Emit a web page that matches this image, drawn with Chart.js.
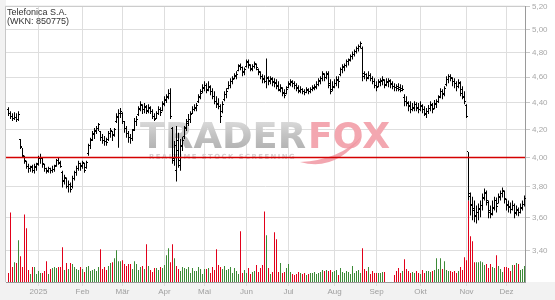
<!DOCTYPE html>
<html><head><meta charset="utf-8">
<script src="https://cdn.jsdelivr.net/npm/chart.js@4.4.1/dist/chart.umd.min.js"></script>
<style>html,body{margin:0;padding:0;background:#fff;}canvas{display:block;}</style>
</head><body>
<canvas id="c" width="555" height="300"></canvas>
<script>
const titleLine1 = 'Telefonica S.A.';
const titleLine2 = '(WKN: 850775)';
const monthStarts = [15,37,57,78,98,119,140,163,184,206,229,249];
const monthLabels = ['2025','Feb','Mär','Apr','Mai','Jun','Jul','Aug','Sep','Okt','Nov','Dez'];
const priceTicks = [3.4,3.6,3.8,4.0,4.2,4.4,4.6,4.8,5.0,5.2];
const refLevel = 4.0;

const open = [
4.351,4.321,4.299,4.284,4.291,4.277,4.124,4.067,4.004,3.970,
3.936,3.922,3.936,3.909,3.929,3.956,3.997,3.990,3.950,3.922,
3.902,3.922,3.909,3.916,3.943,3.977,3.963,3.895,3.836,3.855,
3.803,3.816,3.803,3.855,3.895,3.922,3.956,3.936,3.956,3.929,
4.025,4.082,4.124,4.160,4.182,4.204,4.182,4.139,4.117,4.110,
4.124,4.167,4.182,4.160,4.262,4.291,4.321,4.321,4.255,4.204,
4.167,4.139,4.131,4.196,4.255,4.314,4.359,4.382,4.351,4.366,
4.344,4.359,4.336,4.299,4.284,4.321,4.351,4.344,4.389,4.420,
4.443,4.474,4.204,3.977,3.909,4.117,3.943,4.075,4.146,4.211,
4.255,4.277,4.321,4.351,4.359,4.412,4.450,4.489,4.512,4.536,
4.497,4.520,4.489,4.450,4.412,4.397,4.374,4.336,4.427,4.466,
4.512,4.536,4.567,4.591,4.607,4.655,4.695,4.679,4.639,4.687,
4.728,4.695,4.663,4.687,4.704,4.663,4.639,4.607,4.591,4.567,
4.591,4.567,4.583,4.567,4.559,4.536,4.497,4.512,4.481,4.474,
4.520,4.544,4.559,4.552,4.536,4.520,4.489,4.505,4.489,4.481,
4.505,4.489,4.505,4.512,4.520,4.544,4.567,4.591,4.623,4.599,
4.631,4.552,4.505,4.528,4.552,4.583,4.623,4.663,4.679,4.695,
4.728,4.744,4.769,4.786,4.810,4.835,4.852,4.835,4.607,4.623,
4.591,4.615,4.591,4.567,4.536,4.528,4.559,4.567,4.575,4.544,
4.559,4.567,4.552,4.528,4.520,4.528,4.520,4.512,4.443,4.412,
4.404,4.382,4.351,4.359,4.389,4.366,4.351,4.374,4.351,4.314,
4.336,4.359,4.382,4.359,4.389,4.412,4.450,4.489,4.474,4.544,
4.583,4.607,4.591,4.567,4.552,4.528,4.552,4.505,4.443,4.382,
4.039,3.736,3.685,3.660,3.610,3.635,3.654,3.679,3.730,3.756,
3.698,3.647,3.628,3.666,3.711,3.692,3.730,3.756,3.769,3.717,
3.685,3.673,3.654,3.679,3.628,3.654,3.635,3.666,3.685];
const high = [
4.366,4.336,4.321,4.328,4.321,4.336,4.131,4.067,4.011,3.977,
3.956,3.943,3.950,3.956,3.963,4.011,4.025,3.997,3.956,3.929,
3.936,3.929,3.943,3.950,3.990,3.997,3.977,3.909,3.882,3.862,
3.842,3.829,3.875,3.909,3.943,3.977,3.963,3.977,3.963,3.977,
4.096,4.139,4.189,4.211,4.225,4.247,4.189,4.167,4.153,4.139,
4.189,4.211,4.189,4.211,4.321,4.351,4.359,4.328,4.262,4.225,
4.189,4.167,4.204,4.284,4.299,4.374,4.412,4.389,4.397,4.382,
4.389,4.374,4.351,4.321,4.336,4.374,4.366,4.412,4.450,4.466,
4.505,4.512,4.218,4.117,4.225,4.175,4.131,4.146,4.225,4.277,
4.314,4.336,4.374,4.389,4.397,4.466,4.505,4.544,4.567,4.552,
4.567,4.536,4.512,4.489,4.450,4.435,4.389,4.412,4.489,4.512,
4.567,4.591,4.607,4.631,4.647,4.704,4.712,4.687,4.679,4.744,
4.744,4.704,4.704,4.728,4.712,4.671,4.647,4.623,4.615,4.753,
4.607,4.607,4.599,4.591,4.583,4.567,4.544,4.520,4.505,4.528,
4.567,4.583,4.575,4.567,4.552,4.536,4.528,4.512,4.505,4.520,
4.512,4.520,4.536,4.544,4.567,4.591,4.607,4.647,4.631,4.647,
4.647,4.583,4.567,4.583,4.607,4.607,4.679,4.704,4.712,4.744,
4.753,4.786,4.810,4.827,4.852,4.869,4.894,4.852,4.647,4.631,
4.647,4.631,4.607,4.591,4.567,4.583,4.591,4.607,4.583,4.591,
4.591,4.583,4.567,4.552,4.544,4.552,4.544,4.536,4.466,4.450,
4.412,4.412,4.397,4.412,4.404,4.397,4.412,4.389,4.374,4.359,
4.382,4.412,4.397,4.420,4.427,4.458,4.512,4.505,4.528,4.607,
4.623,4.623,4.599,4.591,4.567,4.583,4.567,4.528,4.489,4.389,
4.039,3.763,3.736,3.711,3.679,3.692,3.711,3.756,3.789,3.776,
3.711,3.679,3.711,3.736,3.730,3.756,3.776,3.796,3.776,3.723,
3.711,3.698,3.711,3.692,3.679,3.666,3.692,3.711,3.743];
const low = [
4.299,4.277,4.262,4.269,4.255,4.262,4.060,3.997,3.956,3.922,
3.895,3.902,3.895,3.889,3.909,3.943,3.956,3.929,3.902,3.889,
3.895,3.889,3.895,3.902,3.936,3.950,3.929,3.796,3.816,3.789,
3.763,3.763,3.789,3.842,3.875,3.909,3.909,3.922,3.895,3.922,
4.011,4.060,4.117,4.131,4.167,4.189,4.117,4.096,4.082,4.082,
4.117,4.139,4.117,4.146,4.247,4.068,4.284,4.240,4.175,4.139,
4.103,4.096,4.117,4.189,4.225,4.299,4.336,4.314,4.321,4.314,
4.321,4.314,4.277,4.262,4.277,4.306,4.299,4.336,4.374,4.397,
4.427,4.277,3.956,3.943,3.836,3.929,3.909,4.046,4.131,4.189,
4.225,4.247,4.314,4.336,4.336,4.397,4.427,4.474,4.489,4.474,
4.489,4.458,4.427,4.389,4.359,4.351,4.247,4.321,4.412,4.435,
4.505,4.512,4.544,4.583,4.583,4.647,4.655,4.607,4.615,4.679,
4.671,4.647,4.647,4.671,4.655,4.615,4.583,4.552,4.552,4.512,
4.536,4.544,4.528,4.520,4.505,4.489,4.481,4.450,4.435,4.466,
4.512,4.528,4.520,4.505,4.489,4.474,4.474,4.466,4.458,4.474,
4.466,4.474,4.489,4.497,4.505,4.528,4.544,4.567,4.567,4.583,
4.512,4.466,4.489,4.512,4.528,4.512,4.607,4.631,4.647,4.679,
4.695,4.728,4.744,4.769,4.794,4.810,4.835,4.567,4.583,4.567,
4.583,4.567,4.544,4.512,4.489,4.520,4.528,4.536,4.512,4.528,
4.520,4.512,4.505,4.489,4.489,4.489,4.481,4.489,4.374,4.374,
4.336,4.321,4.336,4.336,4.336,4.321,4.336,4.321,4.299,4.284,
4.314,4.336,4.321,4.351,4.359,4.397,4.435,4.427,4.450,4.528,
4.552,4.567,4.528,4.512,4.489,4.512,4.450,4.427,4.389,4.284,
3.711,3.616,3.585,3.573,3.566,3.585,3.604,3.647,3.711,3.679,
3.598,3.598,3.616,3.647,3.635,3.692,3.711,3.730,3.692,3.647,
3.635,3.628,3.647,3.598,3.616,3.610,3.628,3.647,3.673];
const close = [
4.321,4.299,4.284,4.291,4.277,4.314,4.075,4.011,3.977,3.936,
3.922,3.929,3.909,3.936,3.950,3.990,3.997,3.956,3.922,3.909,
3.922,3.909,3.916,3.936,3.977,3.956,3.936,3.842,3.862,3.803,
3.816,3.783,3.855,3.895,3.922,3.956,3.943,3.963,3.909,3.963,
4.082,4.117,4.167,4.189,4.204,4.233,4.139,4.117,4.110,4.103,
4.167,4.189,4.153,4.196,4.299,4.321,4.336,4.262,4.204,4.167,
4.139,4.131,4.189,4.262,4.277,4.351,4.389,4.351,4.374,4.336,
4.366,4.336,4.299,4.277,4.321,4.351,4.328,4.397,4.427,4.450,
4.474,4.299,3.990,4.082,4.046,3.977,4.082,4.117,4.204,4.247,
4.277,4.314,4.351,4.366,4.382,4.443,4.474,4.520,4.536,4.505,
4.528,4.489,4.450,4.412,4.389,4.374,4.299,4.389,4.466,4.489,
4.536,4.567,4.583,4.615,4.623,4.687,4.679,4.647,4.663,4.720,
4.704,4.671,4.687,4.712,4.679,4.647,4.607,4.583,4.567,4.599,
4.575,4.591,4.559,4.552,4.528,4.505,4.520,4.474,4.458,4.505,
4.552,4.567,4.552,4.536,4.512,4.497,4.505,4.489,4.481,4.497,
4.489,4.505,4.520,4.528,4.544,4.575,4.591,4.631,4.599,4.623,
4.536,4.489,4.520,4.552,4.575,4.567,4.663,4.687,4.695,4.728,
4.736,4.769,4.786,4.810,4.835,4.852,4.877,4.631,4.623,4.599,
4.615,4.591,4.567,4.536,4.520,4.567,4.575,4.583,4.536,4.567,
4.575,4.544,4.528,4.520,4.512,4.505,4.497,4.505,4.412,4.397,
4.374,4.351,4.366,4.389,4.359,4.351,4.382,4.351,4.321,4.336,
4.359,4.389,4.351,4.397,4.412,4.443,4.489,4.466,4.512,4.583,
4.607,4.599,4.567,4.552,4.528,4.559,4.474,4.450,4.412,4.299,
3.756,3.679,3.647,3.616,3.635,3.660,3.679,3.723,3.763,3.711,
3.635,3.622,3.660,3.711,3.673,3.736,3.756,3.776,3.723,3.679,
3.666,3.654,3.679,3.635,3.647,3.635,3.660,3.685,3.723];
const volume = [
90,700,150,200,190,420,260,150,680,540,
120,80,150,150,80,110,90,90,110,210,
80,130,140,150,140,150,150,350,120,190,
130,190,180,150,130,120,150,130,100,150,
160,110,120,130,110,150,330,130,150,120,
160,190,200,240,320,210,210,220,180,160,
180,180,130,210,180,120,150,160,130,380,
160,120,100,140,140,120,150,140,170,270,
340,200,380,240,160,130,110,150,140,130,
150,90,140,110,110,150,130,80,130,130,
140,90,150,120,330,170,150,130,160,120,
130,150,90,140,110,80,510,90,120,90,
140,80,100,110,170,100,140,170,710,470,
140,80,100,500,430,100,190,90,100,140,
180,100,80,70,80,100,90,80,90,70,
80,90,90,100,80,90,100,120,110,120,
110,120,100,110,120,70,140,100,90,110,
100,80,160,90,110,120,90,340,130,110,
150,80,110,90,90,90,90,100,100,null,
null,null,null,70,110,140,90,110,230,130,
110,90,100,90,110,90,80,120,90,110,
110,100,110,120,240,130,240,130,210,120,
110,110,100,110,90,110,150,120,250,220,
820,460,410,200,200,200,210,200,170,180,
140,180,150,140,270,160,130,100,150,150,
140,110,170,170,190,180,120,130,160];

const UP = '#3d8a37', DOWN = '#e2001a';
const volColors = close.map((c, i) => (i > 0 && c >= close[i - 1]) ? UP : DOWN);
const FONT = '"Liberation Sans", Arial, sans-serif';

const bgPlugin = {
  id: 'bg',
  beforeDraw(chart) {
    const {ctx, chartArea: a, width, height} = chart;
    ctx.save();
    ctx.fillStyle = '#ffffff';
    ctx.fillRect(0, 0, width, height);
    ctx.fillStyle = '#f2f2f2';
    ctx.fillRect(0, a.bottom, width, height - a.bottom);
    ctx.fillRect(0, 0, a.left, height);
    ctx.restore();
  },
  beforeDatasetsDraw(chart) {
    const {ctx, chartArea: a} = chart;
    ctx.save();
    ctx.strokeStyle = '#c8c8c8';
    ctx.lineWidth = 1;
    ctx.beginPath();
    ctx.moveTo(a.left - 0.5, a.bottom);
    ctx.lineTo(a.left - 0.5, a.top - 0.5);
    ctx.lineTo(a.right, a.top - 0.5);
    ctx.stroke();
    // watermark
    ctx.textBaseline = 'alphabetic';
    ctx.font = 'bold 36px "DejaVu Sans"';
    const wT = ctx.measureText('TRADER').width;
    ctx.save();
    ctx.translate(140, 148);
    ctx.scale(166 / wT, 1);
    const g = ctx.createLinearGradient(0, -27, 0, 0);
    g.addColorStop(0, '#dadada');
    g.addColorStop(0.5, '#c4c4c4');
    g.addColorStop(1, '#b4b4b4');
    ctx.fillStyle = g;
    ctx.fillText('TRADER', 0, 0);
    ctx.restore();
    const wF = ctx.measureText('FOX').width;
    ctx.save();
    ctx.translate(308, 148);
    ctx.scale(82 / wF, 1);
    ctx.fillStyle = '#f3a7b0';
    ctx.fillText('FOX', 0, 0);
    ctx.restore();
    // swoosh
    ctx.fillStyle = 'rgba(240,150,162,0.85)';
    ctx.beginPath();
    ctx.moveTo(300, 162);
    ctx.quadraticCurveTo(336, 172, 362, 136);
    ctx.quadraticCurveTo(340, 160, 300, 162);
    ctx.fill();
    // tagline
    ctx.font = 'bold 7px "DejaVu Sans"';
    try { ctx.letterSpacing = '1.5px'; } catch (e) {}
    const wS = ctx.measureText('REALTIME STOCK SCREENING').width;
    ctx.save();
    ctx.translate(149, 159);
    ctx.scale(147 / wS, 1);
    ctx.fillStyle = '#d6cdcf';
    ctx.fillText('REALTIME STOCK SCREENING', 0, 0);
    ctx.restore();
    ctx.restore();
  },
  afterDatasetsDraw(chart) {
    const {ctx, chartArea: a, scales} = chart;
    const xs = scales.x, ys = scales.y;
    ctx.save();
    ctx.fillStyle = '#000';
    for (let i = 0; i < close.length; i++) {
      const px = Math.floor(xs.getPixelForValue(i));
      ctx.fillRect(px - 1, Math.floor(ys.getPixelForValue(open[i])), 1, 1);
      ctx.fillRect(px + 1, Math.floor(ys.getPixelForValue(close[i])), 1, 1);
    }
    // reference level line
    const yr = ys.getPixelForValue(refLevel);
    ctx.strokeStyle = '#d40000';
    ctx.lineWidth = 1.4;
    ctx.beginPath();
    ctx.moveTo(a.left, yr);
    ctx.lineTo(a.right, yr);
    ctx.stroke();
    ctx.restore();
  },
  afterDraw(chart) {
    const {ctx} = chart;
    ctx.save();
    ctx.fillStyle = '#333';
    ctx.font = '9px ' + FONT;
    ctx.textBaseline = 'middle';
    ctx.fillText(titleLine1, 7, 12.5);
    ctx.fillText(titleLine2, 7, 22);
    ctx.restore();
  }
};

new Chart(document.getElementById('c'), {
  type: 'bar',
  data: {
    datasets: [
      {
        label: 'Volumen',
        data: volume.map((v, i) => ({x: i, y: v})),
        yAxisID: 'yVol',
        backgroundColor: volColors,
        barThickness: 1,
        grouped: false,
        inflateAmount: 0,
        borderWidth: 0,
        order: 2
      },
      {
        label: 'Kurs',
        data: high.map((h, i) => ({x: i, y: [low[i], h]})),
        yAxisID: 'y',
        backgroundColor: '#000',
        barThickness: 1,
        grouped: false,
        inflateAmount: 0,
        borderWidth: 0,
        order: 1
      }
    ]
  },
  options: {
    responsive: false,
    animation: false,
    devicePixelRatio: 1,
    layout: {padding: {left: 6, top: 5, right: 0, bottom: 0}},
    plugins: {legend: {display: false}, tooltip: {enabled: false}, title: {display: false}},
    scales: {
      x: {
        type: 'linear', min: -1.25, max: 258.25, offset: false, bounds: 'data',
        grid: {offset: false, color: '#dedede', lineWidth: 1, drawTicks: true, tickLength: 4, tickColor: '#dedede'},
        border: {display: true, color: '#9a9a9a', width: 1},
        ticks: {autoSkip: false, maxRotation: 0, minRotation: 0, padding: 1, color: '#a0a0a0',
          font: {family: FONT, size: 8}, callback: (v, i) => monthLabels[i]},
        afterBuildTicks: s => { s.ticks = monthStarts.map(v => ({value: v})); },
        afterFit: s => { s.height = 18; }
      },
      y: {
        type: 'logarithmic', position: 'right', min: 3.22, max: 5.2, bounds: 'data',
        grid: {color: '#dedede', lineWidth: 1, drawTicks: true, tickLength: 5, tickColor: '#c8c8c8'},
        border: {display: true, color: '#9a9a9a', width: 1},
        ticks: {padding: 2, color: '#a8a8a8', font: {family: FONT, size: 8},
          callback: v => Number(v).toFixed(2).replace('.', ',')},
        afterBuildTicks: s => { s.ticks = priceTicks.map(v => ({value: v})); },
        afterFit: s => { s.width = 30; }
      },
      yVol: {type: 'linear', display: false, min: 0, max: 2770}
    }
  },
  plugins: [bgPlugin]
});
</script>
</body></html>
